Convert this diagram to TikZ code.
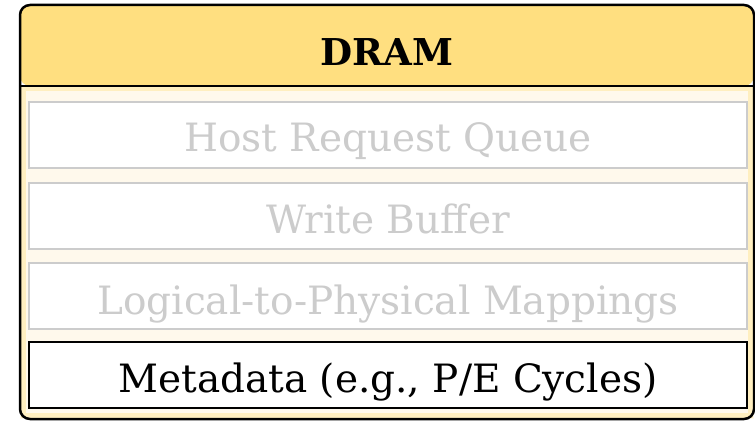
\documentclass[tikz,border=0pt]{standalone}
\usepackage{fontspec}
\setmainfont{DejaVu Serif}
\usepackage{tikz}
\definecolor{dramhead}{RGB}{255,223,128}
\definecolor{drambody}{RGB}{255,249,236}
\definecolor{dramedge}{RGB}{255,239,192}
\definecolor{fadegray}{RGB}{204,204,204}
\tikzset{%
        fadedbox/.style={draw=fadegray, line width=2pt, fill=white},
        activebox/.style={draw=black, line width=2pt, fill=white},
        entry/.style={anchor=base, inner sep=0pt, font=\fontsize{39}{46}\selectfont}
        }

\begin{document}
\begin{tikzpicture}[x=1pt,y=1pt]
\useasboundingbox (0,0) rectangle (755,421);
% body and header
\fill [drambody] (20,2) rectangle (754,335);
\draw [dramedge, line width=5pt] (23.5,5.5) rectangle (750.5,332);
\fill [dramhead, rounded corners=10pt] (20,335) -- (20,416) -- (754,416) -- (754,335) -- cycle;
\draw [line width=2pt] (20,335) -- (754,335);
\draw [line width=2.5pt, rounded corners=10pt] (20,2) rectangle (754,416);
\node [anchor=base, inner sep=0pt, font=\bfseries\fontsize{37}{44}\selectfont] (dram) at (387,355) {DRAM};
% entries
\draw [fadedbox] (29,319) rectangle (747,253);
\draw [fadedbox] (29,238) rectangle (747,172);
\draw [fadedbox] (29,158) rectangle (747,92);
\draw [activebox] (29,79) rectangle (747,13);
\node [entry, fadegray] (queue) at (388,269) {Host Request Queue};
\node [entry, fadegray] (wbuf) at (388,188) {Write Buffer};
\node [entry, fadegray] (l2p) at (388,107) {Logical-to-Physical Mappings};
\node [entry] (meta) at (388,29) {Metadata (e.g., P/E Cycles)};
\end{tikzpicture}
\end{document}
